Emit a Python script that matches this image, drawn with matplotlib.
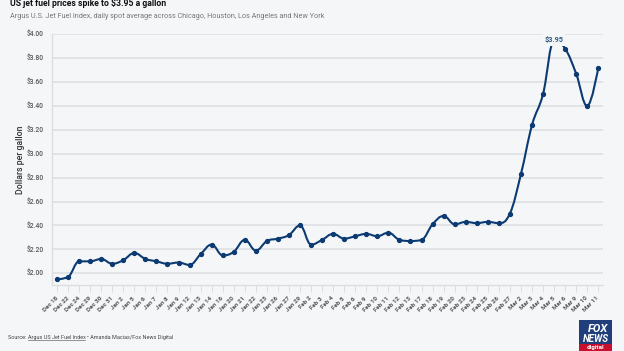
import matplotlib
matplotlib.use("Agg")
import matplotlib.pyplot as plt
from matplotlib.path import Path
from matplotlib.patches import PathPatch, Rectangle
import numpy as np

dates = ["Dec 18", "Dec 22", "Dec 24", "Dec 29", "Dec 30", "Dec 31", "Jan 2", "Jan 5",
         "Jan 6", "Jan 7", "Jan 8", "Jan 9", "Jan 12", "Jan 13", "Jan 14", "Jan 16",
         "Jan 20", "Jan 21", "Jan 22", "Jan 23", "Jan 26", "Jan 27", "Jan 29", "Feb 2",
         "Feb 3", "Feb 4", "Feb 5", "Feb 6", "Feb 9", "Feb 10", "Feb 11", "Feb 12",
         "Feb 13", "Feb 17", "Feb 18", "Feb 19", "Feb 20", "Feb 23", "Feb 24", "Feb 25",
         "Feb 26", "Feb 27", "Mar 2", "Mar 3", "Mar 4", "Mar 5", "Mar 6", "Mar 9",
         "Mar 10", "Mar 11"]
prices = [1.95, 1.97, 2.10, 2.10, 2.12, 2.08, 2.11, 2.17,
          2.12, 2.10, 2.08, 2.09, 2.07, 2.16, 2.24, 2.15,
          2.18, 2.28, 2.19, 2.27, 2.29, 2.32, 2.40, 2.24,
          2.28, 2.33, 2.29, 2.31, 2.33, 2.31, 2.34, 2.28,
          2.27, 2.28, 2.41, 2.48, 2.41, 2.43, 2.42, 2.43,
          2.42, 2.50, 2.83, 3.24, 3.50, 3.95, 3.88, 3.67,
          3.40, 3.72]
ytick_vals = [2.00, 2.20, 2.40, 2.60, 2.80, 3.00, 3.20, 3.40, 3.60, 3.80, 4.00]
peak_label = "$3.95"

BG = "#f5f6f8"
NAVY = "#0b3b72"
W, H = 624, 351

plt.rcParams['font.family'] = ['Roboto', 'DejaVu Sans']

fig = plt.figure(figsize=(W / 100, H / 100), dpi=100, facecolor=BG)

def fx(px):
    return px / W

def fy(py):
    return 1 - py / H

ax_l, ax_r, ax_t, ax_b = 52.3, 603, 34.3, 285
ax = fig.add_axes([fx(ax_l), fy(ax_b), fx(ax_r - ax_l), (ax_b - ax_t) / H])
ax.set_facecolor(BG)

n = len(prices)
xs = np.arange(n, dtype=float)
ys = np.array(prices, dtype=float)

# Highcharts-like spline
def spline_path(x, y, smoothing=1.5):
    denom = smoothing + 1
    rc = [None] * len(x)
    verts = [(x[0], y[0])]
    codes = [Path.MOVETO]
    for i in range(1, len(x)):
        px_, py_ = x[i], y[i]
        lcx, lcy = px_, py_
        if i < len(x) - 1:
            lx, ly = x[i - 1], y[i - 1]
            nx, ny = x[i + 1], y[i + 1]
            lcx = (smoothing * px_ + lx) / denom
            lcy = (smoothing * py_ + ly) / denom
            rcx = (smoothing * px_ + nx) / denom
            rcy = (smoothing * py_ + ny) / denom
            corr = ((rcy - lcy) * (rcx - px_)) / (rcx - lcx) + py_ - rcy
            lcy += corr
            rcy += corr
            if lcy > ly and lcy > py_:
                lcy = max(ly, py_)
                rcy = 2 * py_ - lcy
            elif lcy < ly and lcy < py_:
                lcy = min(ly, py_)
                rcy = 2 * py_ - lcy
            if rcy > ny and rcy > py_:
                rcy = max(ny, py_)
                lcy = 2 * py_ - rcy
            elif rcy < ny and rcy < py_:
                rcy = min(ny, py_)
                lcy = 2 * py_ - rcy
            rc[i] = (rcx, rcy)
        prev_rc = rc[i - 1] if rc[i - 1] is not None else (x[i - 1], y[i - 1])
        verts += [prev_rc, (lcx, lcy), (px_, py_)]
        codes += [Path.CURVE4] * 3
    return Path(verts, codes)

path = spline_path(xs, ys)
ax.add_patch(PathPatch(path, facecolor='none', edgecolor=NAVY, lw=1.5,
                       zorder=3, clip_on=False, capstyle='round', joinstyle='round'))
ax.plot(xs, ys, 'o', color=NAVY, ms=2.8, zorder=4, clip_on=False)

pk = int(np.argmax(ys))
ax.text(xs[pk], ys[pk], peak_label, ha='center', va='center', fontsize=5.3,
        fontweight='bold', color='#345a85', zorder=6,
        bbox=dict(boxstyle='square,pad=0.25', fc=BG, ec='none'))

ax.set_xlim(-0.43, n - 1 + 0.43)
ax.set_ylim(1.902, 4.0)

ax.set_yticks(ytick_vals)
ax.set_yticklabels([f"${v:.2f}" for v in ytick_vals])
ax.tick_params(axis='y', length=0, pad=6, labelsize=4.8, labelcolor='#555555')
for lab in ax.get_yticklabels():
    lab.set_fontweight('medium')
ax.yaxis.grid(True, color='#dfe0e3', lw=1.2, zorder=0)
ax.set_axisbelow(True)

ax.set_xticks(xs)
ax.set_xticklabels(dates, rotation=45, ha='right', va='center', rotation_mode='anchor')
ax.tick_params(axis='x', length=5, width=0.6, color='#d8d9dc', pad=4,
               labelsize=4.5, labelcolor='#555555')
for lab in ax.get_xticklabels():
    lab.set_fontweight('bold')

for s in ['top', 'right']:
    ax.spines[s].set_visible(False)
ax.spines['left'].set_color('#dcdde0')
ax.spines['left'].set_linewidth(1.0)
ax.spines['bottom'].set_color('#dcdde0')
ax.spines['bottom'].set_linewidth(1.0)

ax.set_ylabel("Dollars per gallon", fontsize=6.3, color='#333333', labelpad=1.5,
              fontweight='medium')

# Title / subtitle
fig.text(fx(10), fy(6.5), "US jet fuel prices spike to $3.95 a gallon", fontsize=6.2,
         fontweight='bold', color='#111111', va='baseline', ha='left')
fig.text(fx(10), fy(17.7), "Argus U.S. Jet Fuel Index, daily spot average across Chicago, Houston, Los Angeles and New York",
         fontsize=5.2, color='#777777', va='baseline', ha='left')

# Footer
t1 = fig.text(fx(8), fy(339), "Source: ", fontsize=4.0, color='#444444', va='baseline', ha='left')
fig.canvas.draw()
r = fig.canvas.get_renderer()
bb1 = t1.get_window_extent(r)
t2 = fig.text(bb1.x1 / W, fy(339), "Argus US Jet Fuel Index ", fontsize=4.0, color='#444444',
              va='baseline', ha='left')
bb2 = t2.get_window_extent(r)
fig.add_artist(plt.Line2D([bb2.x0 / W, (bb2.x1 - 2) / W], [fy(340.3), fy(340.3)],
                          color='#444444', lw=0.4))
fig.text(bb2.x1 / W, fy(339), "\u2022 Amanda Macias/Fox News Digital", fontsize=4.0,
         color='#444444', va='baseline', ha='left')

# Fox News digital logo
fig.add_artist(Rectangle((fx(579), fy(344)), fx(33), (344 - 320) / H,
                         transform=fig.transFigure, fc='#1f3e7a', ec='none'))
fig.add_artist(Rectangle((fx(579), fy(351)), fx(33), 7 / H,
                         transform=fig.transFigure, fc='#c8102e', ec='none'))
fig.text(fx(598), fy(328.5), "FOX", fontsize=8, fontweight='bold', color='white',
         ha='center', va='center', style='italic')
fig.text(fx(596), fy(338.5), "NEWS", fontsize=7, fontweight='bold', color='white',
         ha='center', va='center', style='italic')
fig.text(fx(595.5), fy(347.8), "digital", fontsize=4.5, fontweight='bold', color='white',
         ha='center', va='center')

fig.savefig("out.png", dpi=100, facecolor=BG)
